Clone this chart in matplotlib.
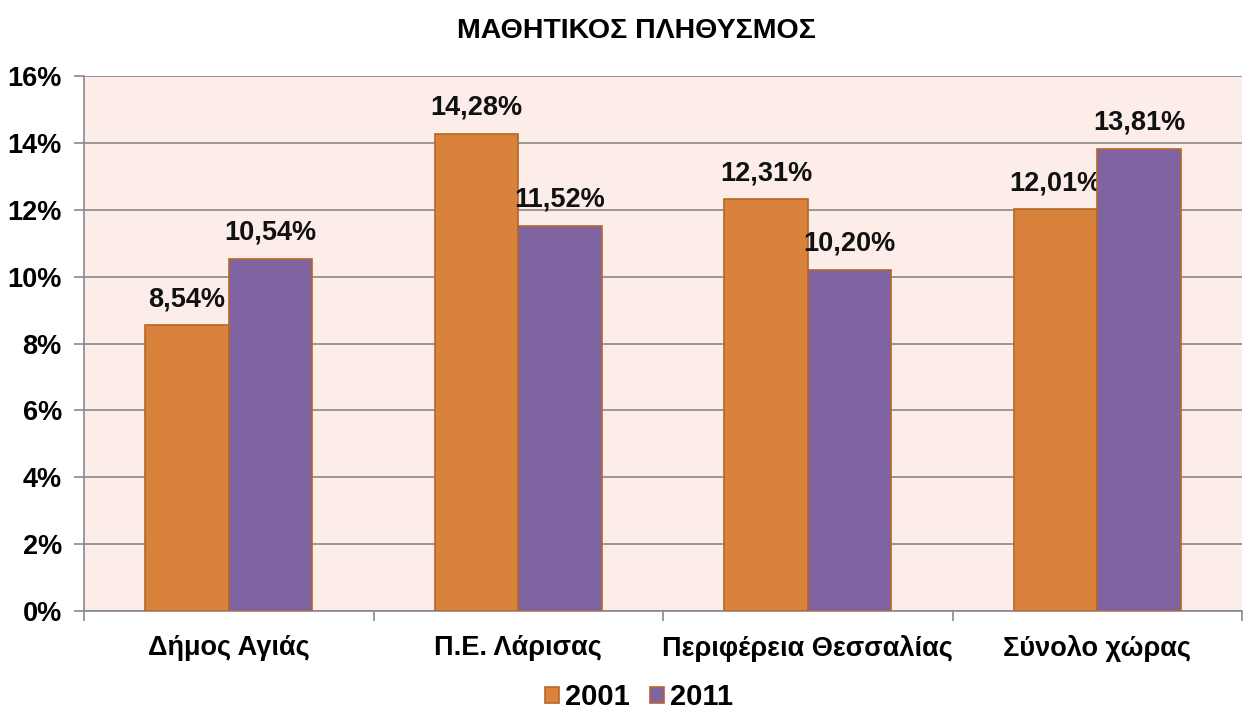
import matplotlib as mpl
mpl.use('Agg')
import matplotlib.pyplot as plt
import numpy as np

categories = ['Δήμος Αγιάς', 'Π.Ε. Λάρισας', 'Περιφέρεια Θεσσαλίας', 'Σύνολο χώρας']
years = ['2001', '2011']
vals_2001 = [8.54, 14.28, 12.31, 12.01]
vals_2011 = [10.54, 11.52, 10.20, 13.81]
yticks = [0, 2, 4, 6, 8, 10, 12, 14, 16]


def fmt(v):
    return ('%.2f%%' % v).replace('.', ',')


def main():
    plt.rcParams['font.family'] = ['Liberation Sans', 'DejaVu Sans']
    plt.rcParams['font.weight'] = 'bold'
    fig = plt.figure(figsize=(12.44, 7.1), dpi=100)
    ax = fig.add_axes([84 / 1244, 1 - 611 / 710, (1242 - 84) / 1244, (611 - 76) / 710])
    ax.set_facecolor('#FCEDE8')

    x = np.arange(len(categories))
    w = 0.288
    colors = ['#D9823B', '#8064A2']
    for i, (vals, col) in enumerate(zip([vals_2001, vals_2011], colors)):
        xs = x + (i - 0.5) * w
        ax.bar(xs, vals, w, color=col, edgecolor='#B5672A', linewidth=1.2,
               label=years[i], zorder=3)
        for xi, v in zip(xs, vals):
            ax.text(xi, v + 0.4, fmt(v), ha='center', va='bottom',
                    fontsize=19.5, fontweight='bold', color='#111111')

    ax.set_xlim(-0.5, len(categories) - 0.5)
    ax.set_ylim(0, 16)
    ax.set_yticks(yticks)
    ax.set_yticklabels(['%d%%' % t for t in yticks], fontsize=19.5, fontweight='bold')
    ax.set_xticks(x)
    ax.set_xticklabels(categories, fontsize=19.5, fontweight='bold')
    ax.set_xticks(np.arange(len(categories) + 1) - 0.5, minor=True)
    ax.tick_params(axis='x', which='major', length=0, pad=17)
    ax.tick_params(axis='x', which='minor', length=7, color='#898989', width=1.2)
    ax.tick_params(axis='y', length=7, color='#898989', width=1.2, pad=9)
    ax.grid(axis='y', color='#898989', linewidth=1.2, zorder=0)
    for s in ['top', 'right']:
        ax.spines[s].set_visible(False)
    for s in ['left', 'bottom']:
        ax.spines[s].set_color('#898989')
        ax.spines[s].set_linewidth(1.2)

    fig.text(0.512, 1 - 31 / 710, 'ΜΑΘΗΤΙΚΟΣ ΠΛΗΘΥΣΜΟΣ', ha='center', va='center',
             fontsize=20.5, fontweight='bold')
    fig.legend(loc='center', bbox_to_anchor=(0.514, 1 - 697 / 710), ncol=2,
               frameon=False, fontsize=21, handlelength=0.48, handleheight=0.48,
               handletextpad=0.2, columnspacing=0.7)
    plt.savefig('out.png', dpi=100)


if __name__ == '__main__':
    main()
